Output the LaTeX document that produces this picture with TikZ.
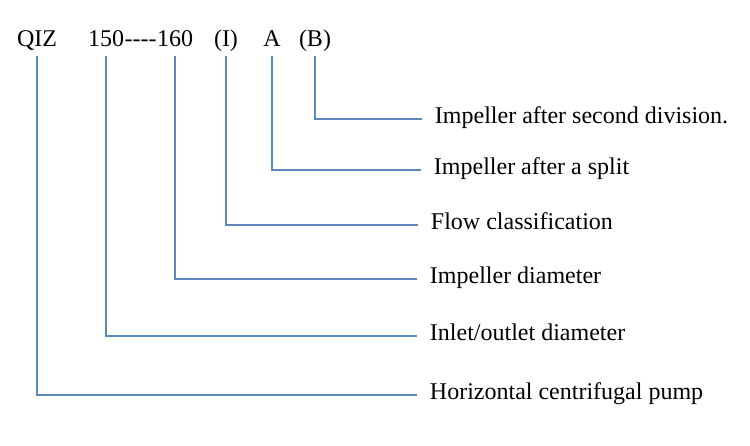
\documentclass[tikz,border=0pt]{standalone}
\usepackage{fontspec}
\setmainfont{Liberation Serif}
\usetikzlibrary{positioning}
\definecolor{linkblue}{RGB}{94,135,186}

\begin{document}
\begin{tikzpicture}[x=0.75pt, y=-0.75pt,
        code/.style={font=\fontsize{18}{21}\selectfont, inner sep=0pt, text depth=7pt, anchor=base},
        label/.style={font=\fontsize{18}{21}\selectfont, anchor=west, inner xsep=9.5pt, inner ysep=0pt, text height=1.6ex, text depth=0pt},
        link/.style={draw=linkblue, line width=1.9pt}
    ]
        \useasboundingbox (0,0) rectangle (750,446);

        % Model code
        \node[code] (qiz) at (37,46) {QIZ};
        \node[code] (d150) at (106,46) {150};
        \node[code, right=0pt of d150.base east, anchor=base west] (dash) {{-}{-}{-}{-}};
        \node[code, right=0pt of dash.base east, anchor=base west] (d160) {160};
        \node[code] (flowI) at (226,46) {(I)};
        \node[code] (cutA) at (272,46) {A};
        \node[code] (cutB) at (315,46) {(B)};

        % Meanings
        \node[label] (second) at (422,119) {Impeller after second division.};
        \node[label] (split) at (421,170) {Impeller after a split};
        \node[label] (flow) at (418,225) {Flow classification};
        \node[label] (impdia) at (417,279) {Impeller diameter};
        \node[label] (inlet) at (417,336) {Inlet/outlet diameter};
        \node[label] (pump) at (417,395) {Horizontal centrifugal pump};

        % Leaders
        \draw[link] (cutB.south) |- (second.west);
        \draw[link] (cutA.south) |- (split.west);
        \draw[link] (flowI.south) |- (flow.west);
        \draw[link] (d160.south) |- (impdia.west);
        \draw[link] (d150.south) |- (inlet.west);
        \draw[link] (qiz.south) |- (pump.west);
    \end{tikzpicture}
\end{document}
